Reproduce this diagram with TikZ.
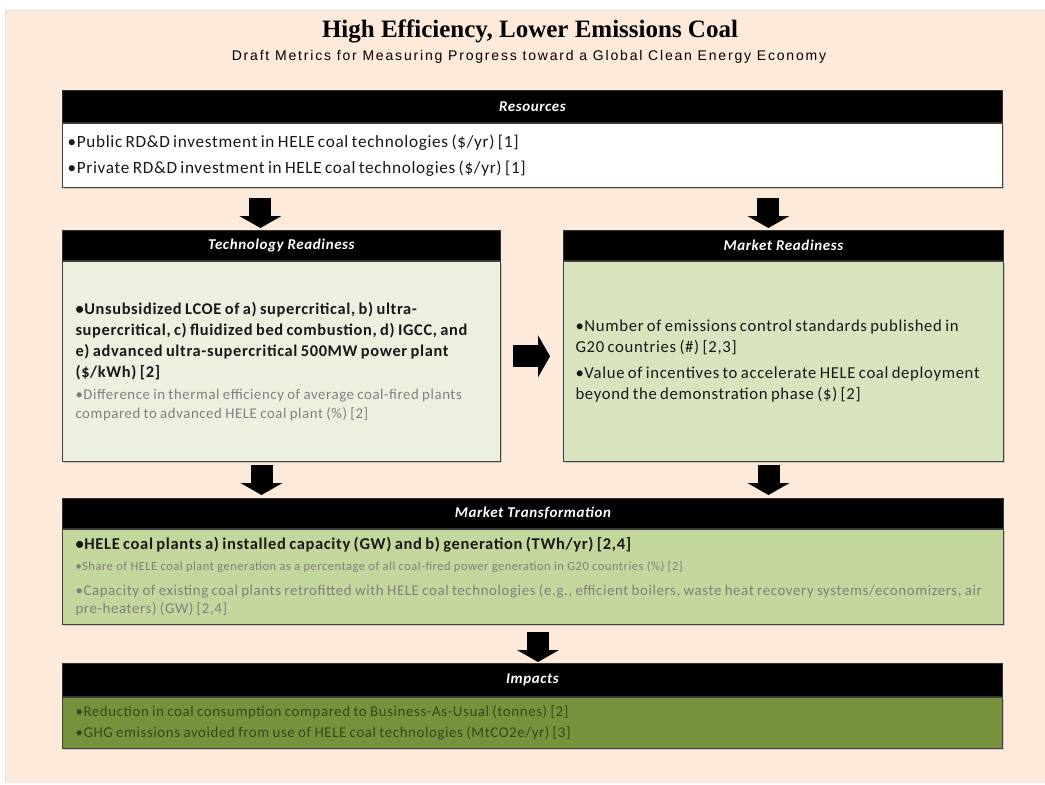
\documentclass[tikz,border=0pt]{standalone}
\usepackage{fontspec}
\setmainfont[LetterSpace=4]{Carlito}
\newfontfamily\titlefont{Liberation Serif}
\newfontfamily\subfont[LetterSpace=13]{Liberation Sans}
\usetikzlibrary{positioning,arrows.meta,shadows}

\definecolor{peach}{HTML}{FDEADA}
\definecolor{pagerim}{HTML}{E6E0DC}
\definecolor{techgreen}{HTML}{EBF1DE}
\definecolor{mktgreen}{HTML}{D7E4BD}
\definecolor{transgreen}{HTML}{C3D69B}
\definecolor{impgreen}{HTML}{76923C}
\definecolor{faintink}{HTML}{808080}
\definecolor{impink}{HTML}{3A4820}

\tikzset{
  headbar/.style={fill=black, draw=black!80, line width=0.8pt, text=white,
    font=\fontsize{15}{15}\selectfont\bfseries\itshape, anchor=north west, inner sep=0pt},
  bodybox/.style={draw=black!75, line width=1pt, anchor=north west, align=left,
    inner ysep=0pt, inner xsep=13pt, text=black!90,
    drop shadow={shadow xshift=1.5pt, shadow yshift=-1.5pt, opacity=0.35}},
  blockarrow/.style={line width=22pt, -{Triangle[width=42pt,length=12pt,line width=0pt]}},
}

\begin{document}
\begin{tikzpicture}[x=1pt, y=-1pt]
  \useasboundingbox (0,0) rectangle (1045,785);
  % page
  \fill[peach] (5,10) rectangle (1046,783);
  \draw[pagerim, line width=1pt] (5,783) -- (5,10) -- (1046,10);
  % title
  \node[anchor=base] (title) at (530,37)
    {\titlefont\fontsize{25}{25}\selectfont\bfseries High Efficiency, Lower Emissions Coal};
  \node[anchor=base] (subtitle) at (529,60)
    {\subfont\fontsize{14}{14}\selectfont Draft Metrics for Measuring Progress toward a Global Clean Energy Economy};

  % Resources
  \node[headbar, minimum width=940pt, minimum height=32pt] (reshead) at (62,90) {Resources};
  \node[bodybox, fill=white, inner xsep=5pt, text width=930pt, minimum height=64pt] (resbody) at (reshead.south west)
    {\fontsize{17.2}{26}\selectfont
     •Public RD\&D investment in HELE coal technologies (\$/yr) [1]\\
     •Private RD\&D investment in HELE coal technologies (\$/yr) [1]\par};

  % Technology Readiness
  \node[headbar, minimum width=438pt, minimum height=30pt] (techhead) at (62,230) {Technology Readiness};
  \node[bodybox, fill=techgreen, text width=412pt, minimum height=200pt] (techbody) at (techhead.south west)
    {{\fontsize{16.4}{21}\selectfont\bfseries
      •Unsubsidized LCOE of a) supercritical, b) ultra-\\
      supercritical, c) fluidized bed combustion, d) IGCC, and\\
      e) advanced ultra-supercritical 500MW power plant\\
      (\$/kWh) [2]\par}
     \vspace{3pt}
     {\fontsize{14.8}{19}\selectfont\color{faintink}
      •Difference in thermal efficiency of average coal-fired plants\\
      compared to advanced HELE coal plant (\%) [2]\par}};

  % Market Readiness
  \node[headbar, minimum width=440pt, minimum height=30pt] (mrhead) at (563,230) {Market Readiness};
  \node[bodybox, fill=mktgreen, inner xsep=12pt, text width=416pt, minimum height=200pt] (mrbody) at (mrhead.south west)
    {{\fontsize{16.7}{21}\selectfont
      •Number of emissions control standards published in\\
      G20 countries (\#) [2,3]\par}
     \vspace{5pt}
     {\fontsize{16.7}{21}\selectfont
      •Value of incentives to accelerate HELE coal deployment\\
      beyond the demonstration phase (\$) [2]\par}};

  % Market Transformation
  \node[headbar, minimum width=941pt, minimum height=30pt] (mthead) at (62,498) {Market Transformation};
  \node[bodybox, fill=transgreen, text width=915pt, minimum height=95pt] (mtbody) at (mthead.south west)
    {{\fontsize{16.5}{21}\selectfont\bfseries
      •HELE coal plants a) installed capacity (GW) and b) generation (TWh/yr) [2,4]\par}
     {\fontsize{12.5}{21}\selectfont\color{faintink}
      •Share of HELE coal plant generation as a percentage of all coal-fired power generation in G20 countries (\%) [2]\par}
     {\fontsize{14.9}{18}\selectfont\color{faintink}
      \vspace{7pt}
      •Capacity of existing coal plants retrofitted with HELE coal technologies (e.g., efficient boilers, waste heat recovery systems/economizers, air\\
      pre-heaters) (GW) [2,4]\par}};

  % Impacts
  \node[headbar, minimum width=940pt, minimum height=33pt] (imphead) at (62,663) {Impacts};
  \node[bodybox, fill=impgreen, text=impink, text width=914pt, minimum height=51pt] (impbody) at (imphead.south west)
    {\fontsize{14.9}{21}\selectfont
     •Reduction in coal consumption compared to Business-As-Usual (tonnes) [2]\\
     •GHG emissions avoided from use of HELE coal technologies (MtCO2e/yr) [3]\par};

  % Arrows
  \draw[blockarrow, shorten <=10pt, shorten >=2pt]
    ([xshift=-21pt]techhead.north |- resbody.south) -- ([xshift=-21pt]techhead.north);
  \draw[blockarrow, shorten <=10pt, shorten >=2pt]
    ([xshift=-15pt]mrhead.north |- resbody.south) -- ([xshift=-15pt]mrhead.north);
  \draw[blockarrow, shorten <=12pt, shorten >=13pt]
    ([yshift=5pt]techbody.east) -- ([yshift=5pt]mrbody.west);
  \draw[blockarrow, shorten <=3pt, shorten >=3pt]
    ([xshift=-20pt]techbody.south) -- ([xshift=-20pt]techbody.south |- mthead.north);
  \draw[blockarrow, shorten <=3pt, shorten >=3pt]
    ([xshift=-15pt]mrbody.south) -- ([xshift=-15pt]mrbody.south |- mthead.north);
  \draw[blockarrow, shorten <=7pt, shorten >=1pt]
    ([xshift=5pt]mtbody.south) -- ([xshift=5pt]mtbody.south |- imphead.north);
\end{tikzpicture}
\end{document}
